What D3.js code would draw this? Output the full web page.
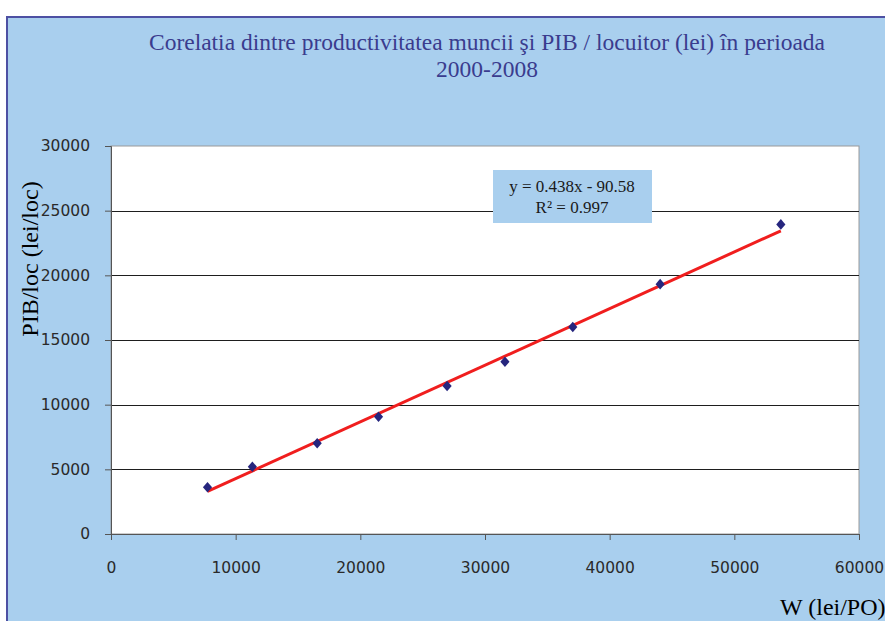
<!DOCTYPE html>
<meta charset="utf-8">
<head>
<script src="https://d3js.org/d3.v7.min.js"></script>
<style>
  body { margin: 0; background: #ffffff; }
  svg { display: block; }
</style>
</head>
<body>
<svg id="chart" width="885" height="621"></svg>
<script>
// W (lei/PO) vs PIB/loc (lei/loc), 2000-2008
var wValues   = [7740, 11340, 16540, 21460, 26960, 31600, 37040, 44050, 53730];
var pibValues = [3610, 5200, 7010, 9070, 11440, 13320, 16000, 19320, 23940];
var xTicks = [0, 10000, 20000, 30000, 40000, 50000, 60000];
var yTicks = [0, 5000, 10000, 15000, 20000, 25000, 30000];
var trendSlope = 0.438, trendIntercept = -90.58;
var titleLines = ["Corelatia dintre productivitatea muncii şi PIB / locuitor (lei) în perioada", "2000-2008"];
var legendLines = ["y = 0.438x - 90.58", "R² = 0.997"];

var svg = d3.select("#chart");

// blue panel
svg.append("rect")
  .attr("x", 7).attr("y", 17)
  .attr("width", 900).attr("height", 620)
  .attr("fill", "#a9cfee")
  .attr("stroke", "#4d50a3")
  .attr("stroke-width", 2);

var margin = {left: 111, top: 146, right: 859, bottom: 534};

var x = d3.scaleLinear().domain([0, 60000]).range([margin.left, margin.right]);
var y = d3.scaleLinear().domain([0, 30000]).range([margin.bottom, margin.top]);

// plot area
svg.append("rect")
  .attr("x", margin.left).attr("y", margin.top)
  .attr("width", margin.right - margin.left)
  .attr("height", margin.bottom - margin.top)
  .attr("fill", "#ffffff")
  .attr("stroke", "#9a9a9a")
  .attr("stroke-width", 1);

// gridlines
svg.append("g")
  .selectAll("line")
  .data(yTicks.filter(function(d) { return d > 0 && d < 30000; }))
  .enter().append("line")
  .attr("x1", margin.left).attr("x2", margin.right)
  .attr("y1", function(d) { return Math.round(y(d)) + 0.5; })
  .attr("y2", function(d) { return Math.round(y(d)) + 0.5; })
  .attr("stroke", "#1e1e1e")
  .attr("stroke-width", 1);

// y axis
var yAxis = svg.append("g")
  .attr("transform", "translate(" + margin.left + ",0)")
  .call(d3.axisLeft(y).tickValues(yTicks).tickSize(6).tickPadding(15).tickFormat(d3.format("d")));

// x axis
var xAxis = svg.append("g")
  .attr("transform", "translate(0," + margin.bottom + ")")
  .call(d3.axisBottom(x).tickValues(xTicks).tickSize(6).tickPadding(22).tickFormat(d3.format("d")));

[yAxis, xAxis].forEach(function(a) {
  a.select(".domain").attr("stroke", "#555555");
  a.selectAll(".tick line").attr("stroke", "#555555");
  a.selectAll(".tick text")
    .attr("fill", "#2a2a2a")
    .style("font-family", "'DejaVu Sans', Verdana, sans-serif")
    .style("font-size", "15.5px");
});

// trend line
var xMin = d3.min(wValues), xMax = d3.max(wValues);
svg.append("line")
  .attr("x1", x(xMin)).attr("y1", y(trendSlope * xMin + trendIntercept))
  .attr("x2", x(xMax)).attr("y2", y(trendSlope * xMax + trendIntercept))
  .attr("stroke", "#f01e1e")
  .attr("stroke-width", 3);

// points
var points = wValues.map(function(w, i) { return [w, pibValues[i]]; });
svg.append("g")
  .selectAll("path")
  .data(points)
  .enter().append("path")
  .attr("d", d3.symbol().type(d3.symbolSquare).size(42))
  .attr("transform", function(d) {
    return "translate(" + x(d[0]) + "," + y(d[1]) + ") scale(1,1.15) rotate(45)";
  })
  .attr("fill", "#26267e");

// equation box
svg.append("rect")
  .attr("x", 493).attr("y", 170)
  .attr("width", 159).attr("height", 53)
  .attr("fill", "#a9cfee");

svg.append("g")
  .selectAll("text")
  .data(legendLines)
  .enter().append("text")
  .attr("x", 572)
  .attr("y", function(d, i) { return 192 + i * 21; })
  .attr("text-anchor", "middle")
  .style("font-family", "'Liberation Serif', 'Times New Roman', serif")
  .style("font-size", "17px")
  .attr("fill", "#1a1a1a")
  .text(function(d) { return d; });

// title
svg.append("g")
  .selectAll("text")
  .data(titleLines)
  .enter().append("text")
  .attr("x", 487)
  .attr("y", function(d, i) { return 50 + i * 27; })
  .attr("text-anchor", "middle")
  .style("font-family", "'Liberation Serif', 'Times New Roman', serif")
  .style("font-size", "23.5px")
  .attr("fill", "#3a3c8e")
  .text(function(d) { return d; });

// axis titles
svg.append("text")
  .attr("transform", "translate(38,259) rotate(-90)")
  .attr("text-anchor", "middle")
  .style("font-family", "'Liberation Serif', 'Times New Roman', serif")
  .style("font-size", "24px")
  .attr("fill", "#000000")
  .text("PIB/loc (lei/loc)");

svg.append("text")
  .attr("x", 780).attr("y", 615)
  .style("font-family", "'Liberation Serif', 'Times New Roman', serif")
  .style("font-size", "24px")
  .attr("fill", "#000000")
  .text("W (lei/PO)");
</script>
</body>
